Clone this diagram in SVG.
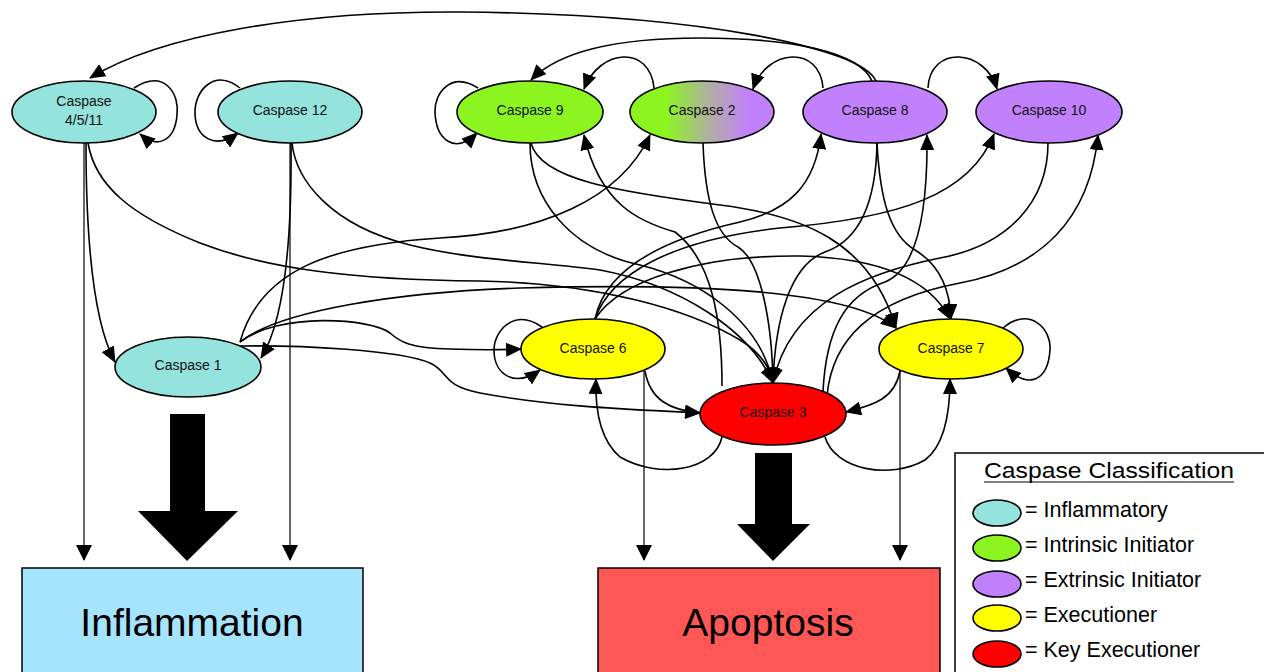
<svg xmlns="http://www.w3.org/2000/svg" width="1264" height="672" viewBox="0 0 1264 672">
<defs>
<marker id="ah" markerUnits="userSpaceOnUse" markerWidth="16" markerHeight="14" refX="15" refY="7" orient="auto"><path d="M0,0 L16,7 L0,14 Z" fill="#000"/></marker>
<marker id="ahs" markerUnits="userSpaceOnUse" markerWidth="16" markerHeight="16" refX="15" refY="8" orient="auto"><path d="M0,0 L16,8 L0,16 Z" fill="#000"/></marker>
<linearGradient id="g2" x1="0" y1="0" x2="1" y2="0">
<stop offset="0.25" stop-color="#8cf520"/>
<stop offset="0.55" stop-color="#b0b0a0"/>
<stop offset="0.82" stop-color="#c281fc"/>
</linearGradient>
</defs>
<style>
.c{fill:none;stroke:#000;stroke-width:1.6;marker-end:url(#ah)}
.s{fill:none;stroke:#000;stroke-width:1.2;marker-end:url(#ahs)}
.n{stroke:#000;stroke-width:1.6}
.inf{fill:#94e3dd}.int{fill:#8cf520}.ext{fill:#c281fc}.exe{fill:#ffff00}.key{fill:#ff0000}
.lbl{font-family:"Liberation Sans",Arial,sans-serif;font-size:14px;fill:#111;text-anchor:middle}
.big{font-family:"Liberation Sans",Arial,sans-serif;font-size:39px;fill:#000;text-anchor:middle}
.lg{font-family:"Liberation Sans",Arial,sans-serif;font-size:21.5px;fill:#000}
</style>
<rect width="1264" height="672" fill="#fff"/>
<g id="connectors">
<path class="c" d="M876,81 C862,48 700,14 460,12 C300,11 160,35 90,78"/>
<path class="c" d="M872,81 C860,52 790,38 700,38 C620,38 560,50 531,80"/>
<path class="c" d="M654,88 C650,45 600,48 584,89"/>
<path class="c" d="M823,88 C820,45 767,48 753,89"/>
<path class="c" d="M928,88 C930,45 985,48 997,89"/>
<path class="c" d="M134,88 C165,68 180,95 177,115 C175,140 158,150 140,134"/>
<path class="c" d="M240,88 C215,68 195,90 195,112 C195,138 215,150 238,133"/>
<path class="c" d="M478,88 C450,70 434,95 435,112 C436,140 455,155 477,133"/>
<path class="c" d="M542,327 C515,308 494,330 494,350 C494,375 515,388 540,370"/>
<path class="c" d="M1003,328 C1030,305 1052,330 1050,350 C1048,380 1030,390 1006,368"/>
<path class="c" d="M86,143 C86,230 92,320 115,362"/>
<path class="c" d="M291,143 C292,240 285,320 261,358"/>
<path class="c" d="M88,143 C95,185 130,215 200,243 C265,268 350,280 480,281 C600,283 690,310 740,340 C760,352 770,368 773,383"/>
<path class="c" d="M292,143 C296,180 330,225 410,245 C470,260 540,262 600,270 C680,285 750,330 773,383"/>
<path class="c" d="M240,342 C260,270 330,245 440,238 C540,233 620,200 650,135"/>
<path class="c" d="M240,342 C280,310 400,292 520,288 C700,283 850,290 896,328"/>
<path class="c" d="M240,342 C280,312 370,318 390,333 C400,342 410,348 450,349 C480,350 500,350 521,349"/>
<path class="c" d="M240,346 C300,345 400,350 430,363 C450,372 440,385 480,393 C560,408 650,410 700,413"/>
<path class="c" d="M530,143 C530,200 570,250 640,265 C700,280 760,320 773,383"/>
<path class="c" d="M531,143 C540,180 620,192 720,205 C800,215 870,240 896,328"/>
<path class="c" d="M703,143 C705,200 715,235 738,247 C760,260 772,320 773,383"/>
<path class="c" d="M877,143 C876,200 860,240 825,252 C790,265 775,320 773,383"/>
<path class="c" d="M877,143 C880,200 890,235 915,250 C940,265 950,290 951,319"/>
<path class="c" d="M1048,143 C1048,200 1010,245 940,258 C870,272 790,300 773,383"/>
<path class="c" d="M722,386 C722,320 712,260 675,232 C640,222 600,205 584,135"/>
<path class="c" d="M823,392 C826,330 845,295 885,282 C915,270 928,220 927,135"/>
<path class="c" d="M827,396 C832,340 870,300 960,283 C1040,268 1090,220 1098,135"/>
<path class="c" d="M722,437 C715,470 660,480 620,457 C600,440 595,410 596,379"/>
<path class="c" d="M825,437 C835,470 890,480 925,460 C945,445 950,410 950,379"/>
<path class="c" d="M595,319 C605,270 660,240 740,222 C790,210 815,185 821,134"/>
<path class="c" d="M595,319 C610,275 670,240 780,228 C900,218 970,195 994,134"/>
<path class="c" d="M595,319 C620,280 700,255 800,256 C880,258 930,280 950,319"/>
<path class="c" d="M645,371 C650,400 670,410 700,413"/>
<path class="c" d="M900,371 C895,398 875,405 846,412"/>
<path class="s" d="M84,143 L84,560"/>
<path class="s" d="M290,143 L290,560"/>
<path class="s" d="M644,370 L644,560"/>
<path class="s" d="M900,370 L900,560"/>
<path d="M170,414 H205 V511 H238 L187,561 L138,511 H170 Z" fill="#000"/>
<path d="M755,453 H792 V524 H810 L773,561 L737,524 H755 Z" fill="#000"/>
</g>
<g id="casp4511"><ellipse class="n inf" cx="84" cy="112" rx="72" ry="31"/><text class="lbl" font-size="13" x="84" y="106">Caspase</text><text class="lbl" font-size="13" x="84" y="125">4/5/11</text></g>
<g id="casp12"><ellipse class="n inf" cx="290" cy="112" rx="72" ry="31"/><text class="lbl" x="290" y="115">Caspase 12</text></g>
<g id="casp9"><ellipse class="n int" cx="530" cy="112" rx="73" ry="31"/><text class="lbl" x="530" y="115">Caspase 9</text></g>
<g id="casp2"><ellipse class="n" fill="url(#g2)" cx="702" cy="112" rx="72" ry="31"/><text class="lbl" x="702" y="115">Caspase 2</text></g>
<g id="casp8"><ellipse class="n ext" cx="875" cy="112" rx="72" ry="31"/><text class="lbl" x="875" y="115">Caspase 8</text></g>
<g id="casp10"><ellipse class="n ext" cx="1049" cy="112" rx="73" ry="31"/><text class="lbl" x="1049" y="115">Caspase 10</text></g>
<g id="casp1"><ellipse class="n inf" cx="188" cy="367" rx="73" ry="30"/><text class="lbl" x="188" y="370">Caspase 1</text></g>
<g id="casp6"><ellipse class="n exe" cx="593" cy="349" rx="72" ry="30"/><text class="lbl" x="593" y="353">Caspase 6</text></g>
<g id="casp3"><ellipse class="n key" cx="773" cy="414" rx="73" ry="31"/><text class="lbl" x="773" y="417">Caspase 3</text></g>
<g id="casp7"><ellipse class="n exe" cx="951" cy="349" rx="72" ry="30"/><text class="lbl" x="951" y="353">Caspase 7</text></g>
<g id="inflammation"><rect x="22" y="568" width="341" height="110" fill="#a6e4fe" stroke="#000" stroke-width="1.5"/><text class="big" x="192" y="636">Inflammation</text></g>
<g id="apoptosis"><rect x="598" y="568" width="342" height="110" fill="#ff5656" stroke="#000" stroke-width="1.5"/><text class="big" x="768" y="636">Apoptosis</text></g>
<g id="legend">
<rect x="955" y="453" width="320" height="230" fill="#fff" stroke="#000" stroke-width="1.5"/>
<text class="lg" x="984" y="478" font-size="24" textLength="250" lengthAdjust="spacingAndGlyphs">Caspase Classification</text>
<line x1="984" y1="482" x2="1234" y2="482" stroke="#000" stroke-width="1.2"/>
<ellipse class="n inf" cx="997" cy="513" rx="24" ry="13"/><text class="lg" x="1025" y="517">= Inflammatory</text>
<ellipse class="n int" cx="997" cy="548" rx="24" ry="13"/><text class="lg" x="1025" y="552">= Intrinsic Initiator</text>
<ellipse class="n ext" cx="997" cy="584" rx="24" ry="13"/><text class="lg" x="1025" y="587">= Extrinsic Initiator</text>
<ellipse class="n exe" cx="997" cy="618" rx="24" ry="13"/><text class="lg" x="1025" y="622">= Executioner</text>
<ellipse class="n key" cx="997" cy="654" rx="24" ry="13"/><text class="lg" x="1025" y="657">= Key Executioner</text>
</g>
</svg>
